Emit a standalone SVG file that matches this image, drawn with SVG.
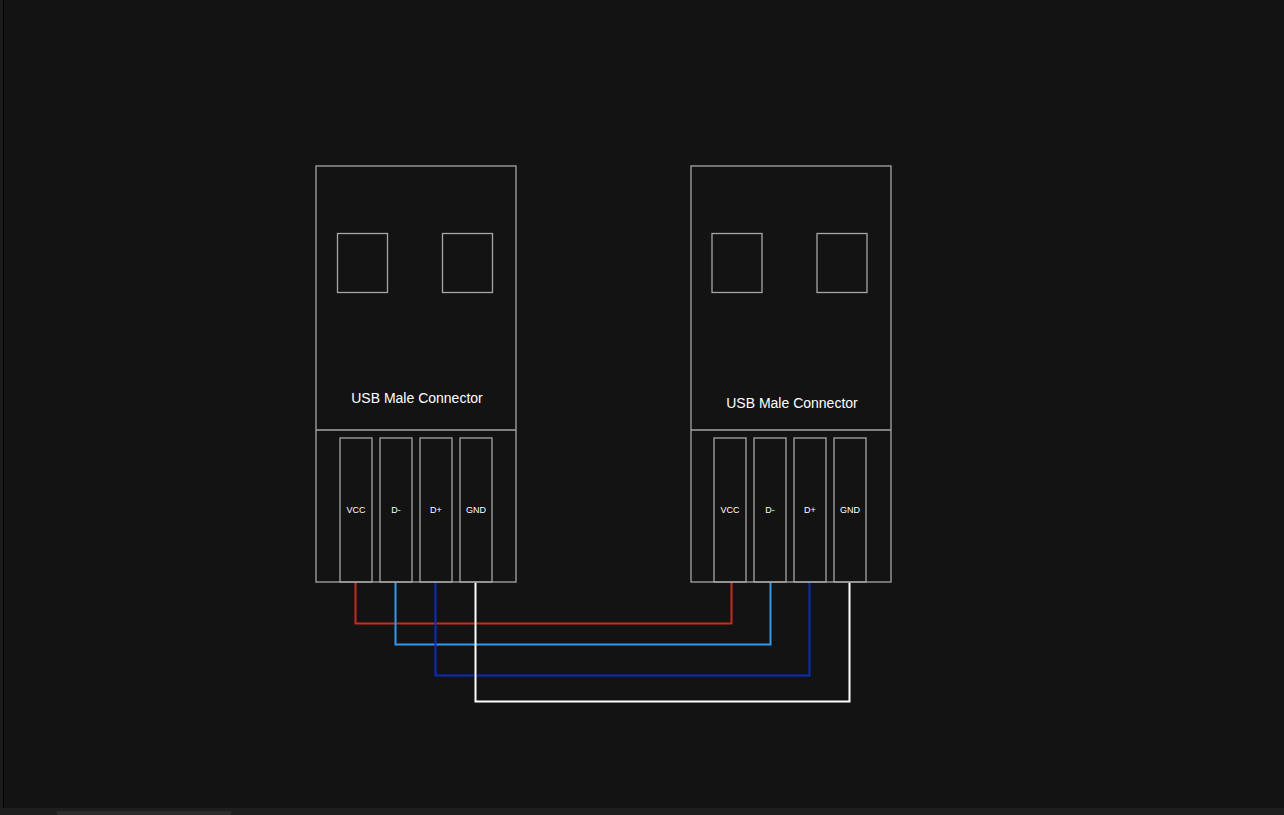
<svg xmlns="http://www.w3.org/2000/svg" width="1284" height="815" viewBox="0 0 1284 815">
<style>
.box{fill:none;stroke:#a6a6a6;stroke-width:1.3}
.title{font-family:"Liberation Sans",Arial,sans-serif;font-size:14px;fill:#ffffff;text-anchor:middle}
.pin{font-family:"Liberation Sans",Arial,sans-serif;font-size:9px;fill:#ffffff;text-anchor:middle}
.wire{fill:none;stroke-width:2}
</style>
<rect x="0" y="0" width="1284" height="815" fill="#131313"/>
<rect x="0" y="0" width="3" height="808" fill="#1a1a1a"/>
<rect x="3" y="0" width="1.2" height="808" fill="#050505"/>
<rect x="0" y="808" width="1284" height="7" fill="#1e1e1e"/>
<rect x="57" y="811" width="174" height="4" fill="#2c2c2c"/>
<g id="connectors">
<polyline class="wire" stroke="#cc2a1a" points="355.5,582 355.5,623.5 731.5,623.5 731.5,582"/>
<polyline class="wire" stroke="#3399ee" points="395.5,582 395.5,644.5 770.5,644.5 770.5,582"/>
<polyline class="wire" stroke="#0a2ac0" points="435.5,582 435.5,675.5 809.5,675.5 809.5,582"/>
<polyline class="wire" stroke="#ffffff" points="475.5,582 475.5,701.5 849.5,701.5 849.5,582"/>
</g>
<g id="usb-left">
<rect class="box" x="316" y="166" width="200" height="416"/>
<line class="box" x1="316" y1="430" x2="516" y2="430"/>
<rect class="box" x="337.5" y="233.5" width="50" height="59"/>
<rect class="box" x="442.5" y="233.5" width="50" height="59"/>
<text class="title" x="417" y="403">USB Male Connector</text>
<g id="left-pins">
<rect class="box" x="340" y="438" width="32" height="144"/>
<rect class="box" x="380" y="438" width="32" height="144"/>
<rect class="box" x="420" y="438" width="32" height="144"/>
<rect class="box" x="460" y="438" width="32" height="144"/>
<text class="pin" x="356" y="513">VCC</text>
<text class="pin" x="396" y="513">D-</text>
<text class="pin" x="436" y="513">D+</text>
<text class="pin" x="476" y="513">GND</text>
</g>
</g>
<g id="usb-right">
<rect class="box" x="691" y="166" width="200" height="416"/>
<line class="box" x1="691" y1="430" x2="891" y2="430"/>
<rect class="box" x="712" y="233.5" width="50" height="59"/>
<rect class="box" x="817" y="233.5" width="50" height="59"/>
<text class="title" x="792" y="408">USB Male Connector</text>
<g id="right-pins">
<rect class="box" x="714" y="438" width="32" height="144"/>
<rect class="box" x="754" y="438" width="32" height="144"/>
<rect class="box" x="794" y="438" width="32" height="144"/>
<rect class="box" x="834" y="438" width="32" height="144"/>
<text class="pin" x="730" y="513">VCC</text>
<text class="pin" x="770" y="513">D-</text>
<text class="pin" x="810" y="513">D+</text>
<text class="pin" x="850" y="513">GND</text>
</g>
</g>
</svg>
